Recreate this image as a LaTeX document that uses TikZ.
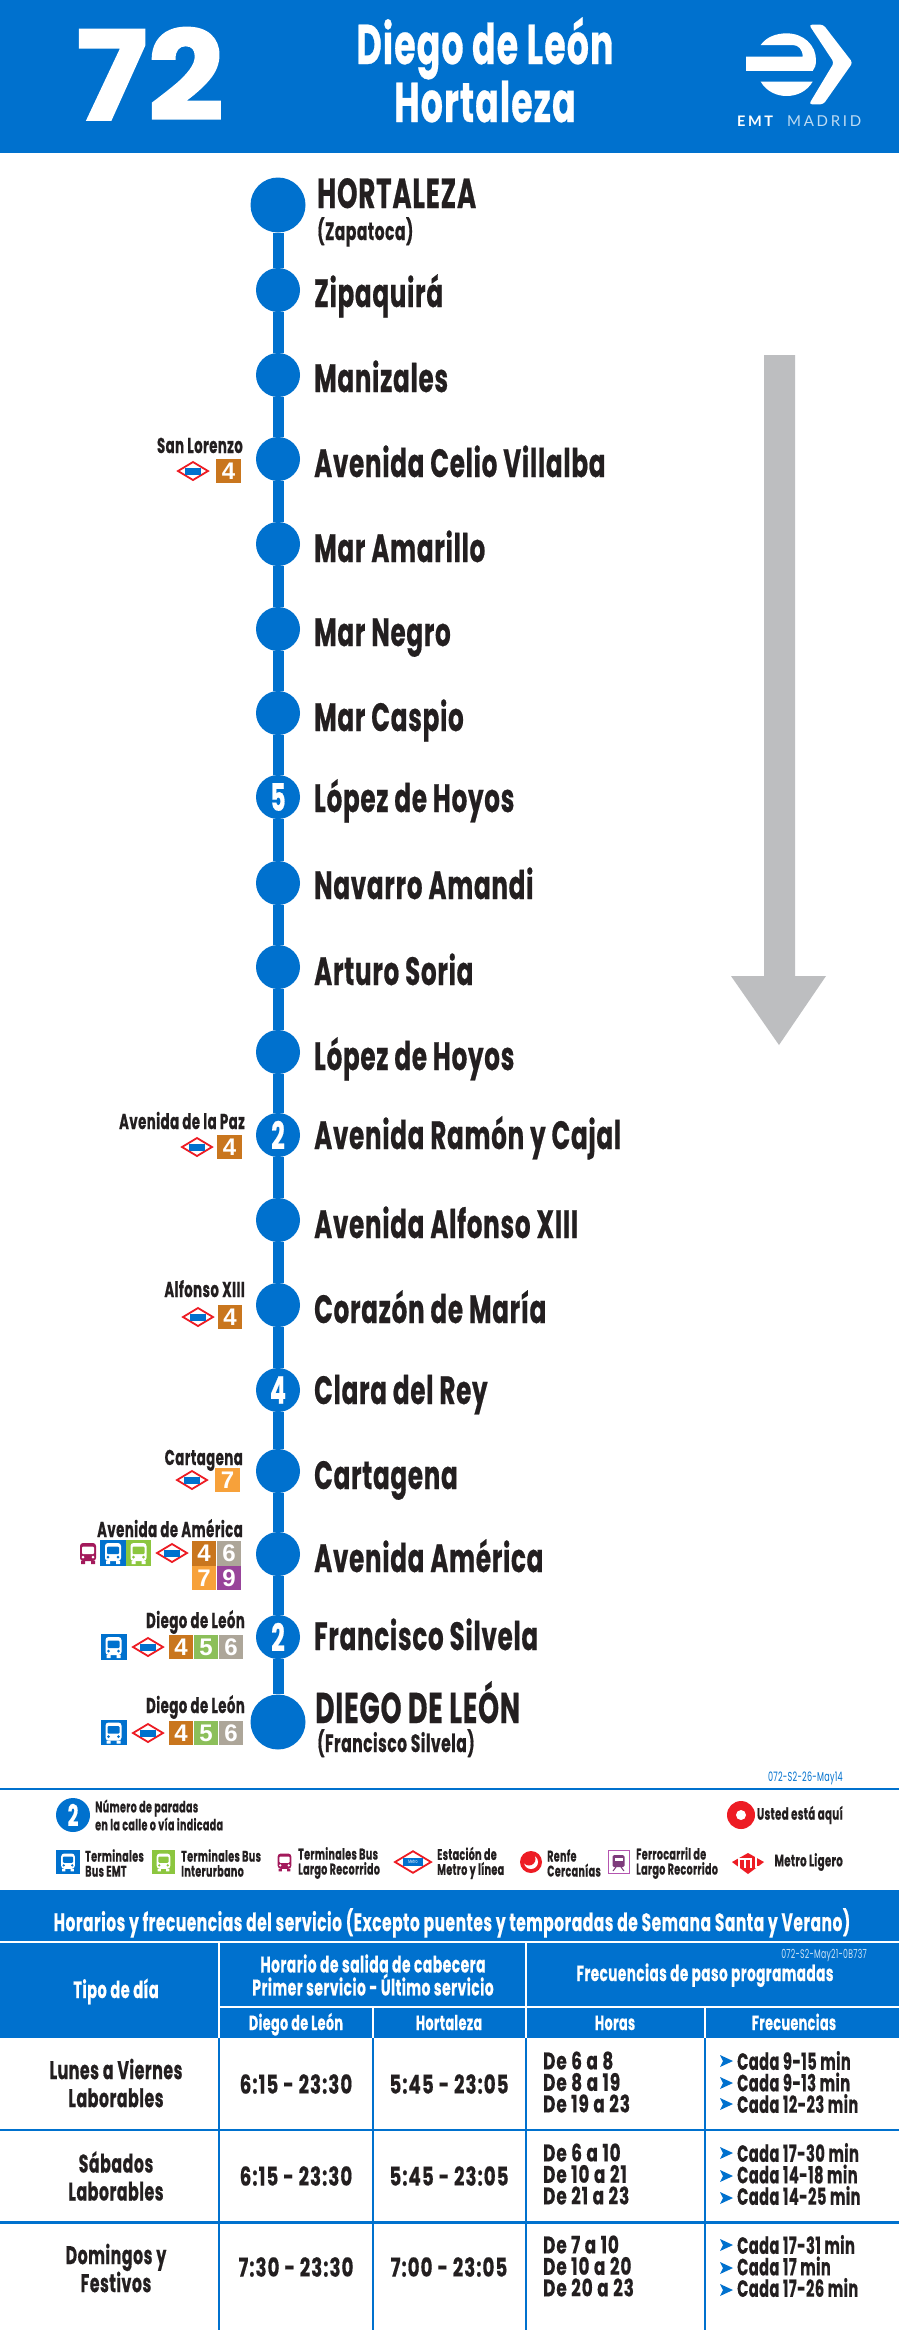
\documentclass[tikz,border=0pt]{standalone}
\usepackage{fontspec}
\setmainfont[FakeStretch=0.62, LetterSpace=2, BoldFeatures={FakeBold=0.5}]{Poppins}
\newfontfamily\numfont[FakeStretch=1.08, BoldFeatures={FakeBold=1.5}]{Poppins}
\newfontfamily\listfont[FakeStretch=0.7, LetterSpace=4, BoldFeatures={FakeBold=0.5}]{Poppins}
\newfontfamily\badgefont{Liberation Sans}
\newfontfamily\logofont[LetterSpace=18]{Lato}
\usepackage{tikz}
\usetikzlibrary{positioning}

\definecolor{emtblue}{HTML}{0071CE}
\definecolor{inkdark}{HTML}{231F20}
\definecolor{arrowgray}{HTML}{BDBEC0}
\definecolor{lnbrown}{HTML}{C9761E}
\definecolor{lngreen}{HTML}{8CBF5A}
\definecolor{lngray}{HTML}{ADA699}
\definecolor{lnorange}{HTML}{F7A13A}
\definecolor{lnpurple}{HTML}{98449A}
\definecolor{busgreen}{HTML}{8CC63F}
\definecolor{busmagenta}{HTML}{A3195B}
\definecolor{metrored}{HTML}{ED1C24}
\definecolor{trainpurple}{HTML}{B455B0}

\tikzset{
  size/.style={font=\bfseries\fontsize{#1}{#1}\selectfont},
  stopdot/.style={circle, fill=emtblue, minimum size=44pt, inner sep=0pt, text=white, size=38},
  enddot/.style={stopdot, minimum size=55pt},
  routeline/.style={emtblue, line width=11pt},
  stopname/.style={anchor=base west, text=inkdark, inner sep=0pt, size=39.5},
  stopnote/.style={anchor=base west, text=inkdark, inner sep=0pt, size=25},
  station/.style={anchor=base east, text=inkdark, inner sep=0pt, size=21.5},
  badge/.style={minimum size=24.5pt, inner sep=0pt, text=white, font=\badgefont\bfseries\fontsize{24}{24}\selectfont},
  lnfour/.style={badge, fill=lnbrown},
  lnfive/.style={badge, fill=lngreen},
  lnsix/.style={badge, fill=lngray},
  lnseven/.style={badge, fill=lnorange},
  lnnine/.style={badge, fill=lnpurple},
  legendtext/.style={anchor=west, align=left, text=inkdark, inner sep=0pt, font=\bfseries\fontsize{15.5}{15}\selectfont},
  headtext/.style={text=white, inner sep=0pt, align=center, font=\bfseries\fontsize{#1}{23}\selectfont},
  cell/.style={text=inkdark, inner sep=0pt, align=center, font=\bfseries\fontsize{25.5}{28}\selectfont},
  timecell/.style={text=inkdark, inner sep=0pt, font=\listfont\bfseries\fontsize{26}{26}\selectfont},
  listcell/.style={anchor=west, text=inkdark, inner sep=0pt, align=left, font=\listfont\bfseries\fontsize{24}{21.5}\selectfont},
  freqcell/.style={listcell, font=\bfseries\fontsize{23.5}{21.5}\selectfont},
  tablegrid/.style={emtblue, line width=2.6pt},
  headgrid/.style={white, line width=2pt},
  pics/metrosign/.style={code={
    \draw[metrored, line width=1.8pt, fill=white] (-15,0) -- (0,-9) -- (15,0) -- (0,9) -- cycle;
    \fill[emtblue] (-8,-3.5) rectangle (8,3.5);
  }},
  pics/busglyph/.style 2 args={code={
    \fill[#1, rounded corners=3pt] (-8,-10) rectangle (8,8);
    \fill[#1] (-7,8) rectangle (-3,11) (3,8) rectangle (7,11);
    \fill[#2, rounded corners=1pt] (-6,-6.5) rectangle (6,1);
    \fill[#2] (-5,4) circle (1.5) (5,4) circle (1.5);
  }},
  pics/cadatip/.style={code={
    \fill[emtblue] (0,-6) -- (13,0) -- (0,6) -- (3,0) -- cycle;
  }}
}

\begin{document}
\begin{tikzpicture}[x=1pt, y=-1pt]
  \useasboundingbox (0,0) rectangle (899,2330);
  \fill[white] (0,0) rectangle (899,2330);

  % header band
  \fill[emtblue] (0,0) rectangle (899,153);
  \node[anchor=base, text=white, inner sep=0pt, font=\numfont\bfseries\fontsize{124}{124}\selectfont] (linenum) at (150,120) {72};
  \node[anchor=base, text=white, inner sep=0pt, size=56] (headone) at (485,64) {Diego de León};
  \node[anchor=base, text=white, inner sep=0pt, size=56] (headtwo) at (485,122) {Hortaleza};
  \begin{scope}[shift={(730,10)}, x=0.3333pt, y=-0.3333pt]
    \fill[white, rounded corners=3pt] (237,44) -- (280,44) -- (368,158) -- (280,283) -- (237,283) -- (312,158) -- cycle;
    \fill[white] (92,105) .. controls (110,80) and (140,70) .. (170,70) .. controls (220,70) and (258,105) .. (258,150)
      .. controls (258,165) and (255,175) .. (248,183) -- (48,183) -- (48,140) -- (218,140)
      .. controls (218,118) and (205,105) .. (188,105) -- cycle;
    \fill[white] (92,215) -- (248,215) .. controls (230,245) and (200,258) .. (170,258) .. controls (140,258) and (110,245) .. (92,215) -- cycle;
  \end{scope}
  \node[anchor=base west, inner sep=0pt, text=white, font=\logofont\bfseries\fontsize{14.5}{14.5}\selectfont] (logoemt) at (737,126) {EMT};
  \node[anchor=base west, inner sep=0pt, text=white!75!emtblue, font=\logofont\fontsize{15}{15}\selectfont] (logomad) at (787,126) {MADRID};

  % direction arrow
  \fill[arrowgray] (764,355) -- (795,355) -- (795,976) -- (826,976) -- (779,1045) -- (731,976) -- (764,976) -- cycle;

  % stops
  \node[enddot] (hortaleza) at (278,205) {};
  \node[stopdot] (zipaquira) at (278,290) {};
  \node[stopdot] (manizales) at (278,375) {};
  \node[stopdot] (celio) at (278,459) {};
  \node[stopdot] (amarillo) at (278,544) {};
  \node[stopdot] (negro) at (278,629) {};
  \node[stopdot] (caspio) at (278,713) {};
  \node[stopdot] (lopezone) at (278,797) {5};
  \node[stopdot] (navarro) at (278,883) {};
  \node[stopdot] (soria) at (278,967) {};
  \node[stopdot] (lopeztwo) at (278,1052) {};
  \node[stopdot] (ramon) at (278,1135) {2};
  \node[stopdot] (alfonso) at (278,1220) {};
  \node[stopdot] (corazon) at (278,1305) {};
  \node[stopdot] (clara) at (278,1390) {4};
  \node[stopdot] (cartagena) at (278,1471) {};
  \node[stopdot] (america) at (278,1554) {};
  \node[stopdot] (silvela) at (278,1637) {2};
  \node[enddot] (leon) at (278,1722) {};
  \draw[routeline] (hortaleza) -- (zipaquira) -- (manizales) -- (celio) -- (amarillo) -- (negro) -- (caspio)
    -- (lopezone) -- (navarro) -- (soria) -- (lopeztwo) -- (ramon) -- (alfonso) -- (corazon) -- (clara)
    -- (cartagena) -- (america) -- (silvela) -- (leon);

  \node[stopname, size=42] (nhortaleza) at (317,208) {HORTALEZA};
  \node[stopnote] (nzapatoca) at (317,240) {(Zapatoca)};
  \node[stopname] (nzipaquira) at (314,307) {Zipaquirá};
  \node[stopname] (nmanizales) at (314,392) {Manizales};
  \node[stopname] (ncelio) at (314,477) {Avenida Celio Villalba};
  \node[stopname] (namarillo) at (314,562) {Mar Amarillo};
  \node[stopname] (nnegro) at (314,646) {Mar Negro};
  \node[stopname] (ncaspio) at (314,731) {Mar Caspio};
  \node[stopname] (nlopezone) at (314,812) {López de Hoyos};
  \node[stopname] (nnavarro) at (314,899) {Navarro Amandi};
  \node[stopname] (nsoria) at (314,985) {Arturo Soria};
  \node[stopname] (nlopeztwo) at (314,1070) {López de Hoyos};
  \node[stopname] (nramon) at (314,1149) {Avenida Ramón y Cajal};
  \node[stopname] (nalfonso) at (314,1238) {Avenida Alfonso XIII};
  \node[stopname] (ncorazon) at (314,1323) {Corazón de María};
  \node[stopname] (nclara) at (314,1404) {Clara del Rey};
  \node[stopname] (ncartagena) at (314,1489) {Cartagena};
  \node[stopname] (namerica) at (314,1572) {Avenida América};
  \node[stopname] (nsilvela) at (314,1650) {Francisco Silvela};
  \node[stopname, size=43] (nleon) at (315,1723) {DIEGO DE LEÓN};
  \node[stopnote] (nfrancisco) at (317,1752) {(Francisco Silvela)};

  % connections at the stops
  \node[station] (slorenzo) at (243,453) {San Lorenzo};
  \pic at (193,471) {metrosign};
  \node[lnfour] (slfour) at (228.5,471) {4};

  \node[station] (lapaz) at (245,1129) {Avenida de la Paz};
  \pic at (197,1147) {metrosign};
  \node[lnfour] (pzfour) at (229.5,1147) {4};

  \node[station] (alfonsoxiii) at (245,1297) {Alfonso XIII};
  \pic at (198,1317) {metrosign};
  \node[lnfour] (alfour) at (230,1317) {4};

  \node[station] (scartagena) at (243,1465) {Cartagena};
  \pic at (192,1480) {metrosign};
  \node[lnseven] (caseven) at (227.5,1480) {7};

  \node[station] (samerica) at (243,1537) {Avenida de América};
  \pic at (88,1553) {busglyph={busmagenta}{white}};
  \fill[emtblue] (100,1540) rectangle (126,1566);
  \pic at (113,1553) {busglyph={white}{emtblue}};
  \fill[busgreen] (126,1540) rectangle (151,1566);
  \pic at (138.5,1553) {busglyph={white}{busgreen}};
  \pic at (172,1553) {metrosign};
  \node[lnfour] (amfour) at (204,1553.5) {4};
  \node[lnsix] (amsix) at (229,1553.5) {6};
  \node[lnseven] (amseven) at (204,1578) {7};
  \node[lnnine] (amnine) at (229,1578) {9};

  \node[station] (sleonone) at (245,1628) {Diego de León};
  \fill[emtblue] (101,1634) rectangle (126.5,1660);
  \pic at (113.5,1647) {busglyph={white}{emtblue}};
  \pic at (148,1647) {metrosign};
  \node[lnfour] (lofour) at (181,1647) {4};
  \node[lnfive] (lofive) at (206,1647) {5};
  \node[lnsix] (losix) at (231,1647) {6};

  \node[station] (sleontwo) at (245,1713) {Diego de León};
  \fill[emtblue] (101,1720) rectangle (126.5,1745);
  \pic at (113.5,1732.5) {busglyph={white}{emtblue}};
  \pic at (148,1733) {metrosign};
  \node[lnfour] (ltfour) at (181,1733) {4};
  \node[lnfive] (ltfive) at (206,1733) {5};
  \node[lnsix] (ltsix) at (231,1733) {6};

  % legend
  \node[anchor=base east, inner sep=0pt, text=emtblue, font=\fontsize{13}{13}\selectfont] (stampone) at (843,1781) {072-S2-26-May14};
  \draw[emtblue, line width=2.6pt] (0,1789) -- (899,1789);
  \node[stopdot, minimum size=34pt, size=30] (keytwo) at (73,1815) {2};
  \node[legendtext] (keytwotext) at (95,1815) {Número de paradas\\en la calle o vía indicada};
  \fill[metrored] (741,1815) circle (14);
  \fill[white] (741,1815) circle (5);
  \node[legendtext, anchor=east, size=16.5] (keyhere) at (843,1815) {Usted está aquí};

  \fill[emtblue] (56,1850) rectangle (80,1874);
  \pic[scale=0.85] at (68,1862) {busglyph={white}{emtblue}};
  \node[legendtext] (keyemt) at (85,1863) {Terminales\\Bus EMT};
  \fill[busgreen] (152,1850) rectangle (175,1874);
  \pic[scale=0.85] at (163.5,1862) {busglyph={white}{busgreen}};
  \node[legendtext] (keyinter) at (181,1863) {Terminales Bus\\Interurbano};
  \pic[scale=0.85] at (284.5,1862) {busglyph={busmagenta}{white}};
  \node[legendtext] (keylong) at (298,1863) {Terminales Bus\\Largo Recorrido};
  \pic[scale=1.2] at (413,1862) {metrosign};
  \node[text=white, inner sep=0pt, font=\fontsize{5}{5}\selectfont] (keymetro) at (413,1862) {Metro};
  \node[legendtext] (keystation) at (437,1863) {Estación de\\Metro y línea};
  \fill[metrored] (531,1862) circle (11);
  \fill[white] (531,1862) circle (7);
  \fill[metrored] (529,1859) circle (6.5);
  \node[legendtext] (keyrenfe) at (547,1863) {Renfe\\Cercanías};
  \draw[trainpurple, line width=1pt, fill=white] (608,1850) rectangle (629,1873);
  \fill[trainpurple!70!black, rounded corners=1.5pt] (612.5,1855) rectangle (624.5,1867);
  \fill[white] (614.5,1857.5) rectangle (622.5,1860.5);
  \draw[trainpurple!70!black, line width=1pt] (613,1871) -- (616,1867) (624,1871) -- (621,1867);
  \node[legendtext] (keytrain) at (636,1863) {Ferrocarril de\\Largo Recorrido};
  \fill[metrored] (732,1862) -- (748,1853) -- (764,1862) -- (748,1874) -- cycle;
  \draw[white, line width=1.3pt] (739,1868) -- (739,1859) -- (751,1859) -- (751,1868) (745,1859) -- (745,1868) (756,1855) -- (756,1867) -- (762,1867);
  \node[legendtext, anchor=east, size=16.5] (keylight) at (843,1862) {Metro Ligero};

  % timetable
  \fill[emtblue] (0,1890) rectangle (899,2038);
  \node[headtext=25, anchor=base] (tabletitle) at (452,1931) {Horarios y frecuencias del servicio (Excepto puentes y temporadas de Semana Santa y Verano)};
  \draw[headgrid] (0,1941.5) -- (899,1941.5);
  \draw[headgrid] (219,2006.5) -- (899,2006.5);
  \draw[headgrid] (219,1941.5) -- (219,2038);
  \draw[headgrid] (526,1941.5) -- (526,2038);
  \draw[headgrid] (373,2006.5) -- (373,2038);
  \draw[headgrid] (705,2006.5) -- (705,2038);
  \node[headtext=23.5, anchor=base] (tipodia) at (116,1998) {Tipo de día};
  \node[headtext=22.5] (horario) at (373,1975) {Horario de salida de cabecera\\Primer servicio - Último servicio};
  \node[anchor=base east, inner sep=0pt, text=white!80!emtblue, font=\fontsize{12.5}{12.5}\selectfont] (stamptwo) at (867,1958) {072-S2-May21-0B737};
  \node[headtext=22, anchor=base] (frecpaso) at (705,1981) {Frecuencias de paso programadas};
  \node[headtext=20.5, anchor=base] (colleon) at (296,2030) {Diego de León};
  \node[headtext=20.5, anchor=base] (colhort) at (449,2030) {Hortaleza};
  \node[headtext=20.5, anchor=base] (colhoras) at (615,2030) {Horas};
  \node[headtext=20.5, anchor=base] (colfrec) at (794,2030) {Frecuencias};

  \draw[tablegrid] (0,2130) -- (899,2130);
  \draw[tablegrid] (0,2222.5) -- (899,2222.5);
  \draw[tablegrid] (219,2038) -- (219,2330);
  \draw[tablegrid] (373,2038) -- (373,2330);
  \draw[tablegrid] (526,2038) -- (526,2330);
  \draw[tablegrid] (705,2038) -- (705,2330);

  \node[cell] (dayone) at (116,2083) {Lunes a Viernes\\Laborables};
  \node[timecell] (firstone) at (296,2084) {6:15 - 23:30};
  \node[timecell] (lastone) at (449,2084) {5:45 - 23:05};
  \node[listcell] (hoursone) at (543,2082) {De 6 a 8\\De 8 a 19\\De 19 a 23};
  \pic at (720,2061) {cadatip};
  \pic at (720,2083) {cadatip};
  \pic at (720,2104) {cadatip};
  \node[freqcell] (freqone) at (737,2082) {Cada 9-15 min\\Cada 9-13 min\\Cada 12-23 min};

  \node[cell] (daytwo) at (116,2176) {Sábados\\Laborables};
  \node[timecell] (firsttwo) at (296,2176) {6:15 - 23:30};
  \node[timecell] (lasttwo) at (449,2176) {5:45 - 23:05};
  \node[listcell] (hourstwo) at (543,2174) {De 6 a 10\\De 10 a 21\\De 21 a 23};
  \pic at (720,2153) {cadatip};
  \pic at (720,2176) {cadatip};
  \pic at (720,2198) {cadatip};
  \node[freqcell] (freqtwo) at (737,2174) {Cada 17-30 min\\Cada 14-18 min\\Cada 14-25 min};

  \node[cell] (daythree) at (116,2268) {Domingos y\\Festivos};
  \node[timecell] (firstthree) at (296,2267) {7:30 - 23:30};
  \node[timecell] (lastthree) at (449,2267) {7:00 - 23:05};
  \node[listcell] (hoursthree) at (543,2266) {De 7 a 10\\De 10 a 20\\De 20 a 23};
  \pic at (720,2245) {cadatip};
  \pic at (720,2268) {cadatip};
  \pic at (720,2290) {cadatip};
  \node[freqcell] (freqthree) at (737,2266) {Cada 17-31 min\\Cada 17 min\\Cada 17-26 min};
\end{tikzpicture}
\end{document}
